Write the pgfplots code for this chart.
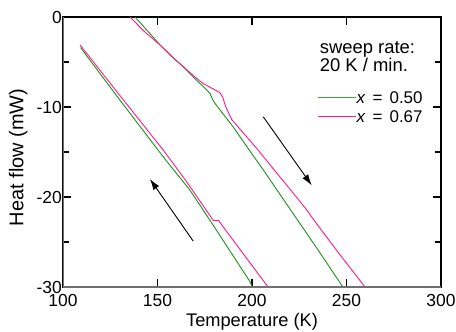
\documentclass[border=0pt]{standalone}
\usepackage{fontspec}
\setmainfont{Liberation Sans}
\usepackage{pgfplots}
\pgfplotsset{compat=1.18}
\usetikzlibrary{arrows.meta}
\definecolor{cgreen}{RGB}{30,145,30}
\definecolor{lgreen}{RGB}{60,165,60}
\definecolor{cpink}{RGB}{255,25,140}
\definecolor{framegray}{RGB}{112,112,112}
\begin{document}
\begin{tikzpicture}
\useasboundingbox (-63bp,-45bp) rectangle (393bp,287bp);
\begin{axis}[
  at={(0,0)}, anchor=south west,
  scale only axis, width=378bp, height=270bp,
  xmin=100, xmax=300, ymin=-30, ymax=0,
  xtick={100,150,200,250,300},
  ytick={-30,-20,-10,0},
  minor ytick={-25,-15,-5},
  tick align=inside,
  major tick length=8bp, minor tick length=6bp,
  every tick/.style={black, line width=1.1bp},
  axis line style={black, line width=2.5bp},
  /pgf/number format/assume math mode=true,
  ticklabel style={font=\fontsize{17.5}{20}\selectfont, text=black},
  xticklabel style={inner sep=0pt, anchor=north, yshift=-7bp},
  yticklabel style={inner sep=0pt, anchor=east, xshift=-1bp},
  xlabel={Temperature (K)},
  ylabel={Heat flow (mW)},
  xlabel style={font=\fontsize{18.3}{22}\selectfont, at={(axis description cs:0.5,0)}, anchor=base, yshift=-39bp, inner sep=0pt},
  ylabel style={font=\fontsize{20}{24}\selectfont, at={(axis description cs:-0.105,0.48)}, anchor=base, rotate=0, inner sep=0pt},
  clip=true,
]
% heating, x = 0.50
\addplot[cgreen, line width=0.9bp] coordinates {
 (138.1,0) (145,-1.6) (151.3,-3.1) (157,-4.3) (163.5,-5.5) (170,-6.9) (175.1,-7.9)
 (177.8,-8.5) (179,-9.1) (180.4,-9.6) (190,-12.2) (198.6,-14.8) (206,-17.0)
 (220,-21.3) (235,-25.9) (248.1,-30)
};
% heating, x = 0.67
\addplot[cpink, line width=0.9bp] coordinates {
 (135.4,0) (143,-1.6) (151.3,-3.1) (159.8,-4.8) (164.6,-5.7) (170,-6.7) (174.2,-7.4)
 (180.4,-8.1) (183,-8.4) (184.5,-8.9) (186,-9.9) (187.5,-10.6) (189.3,-11.4)
 (200,-14.0) (203.3,-14.8) (210.2,-16.6) (220,-19.1) (229.6,-21.6) (231.3,-22.15)
 (245,-26.0) (259.8,-30)
};
% cooling, x = 0.50
\addplot[cgreen, line width=0.9bp] coordinates {
 (109.3,-3.4) (130,-9.2) (154,-15.8) (166.3,-19.0) (168,-19.5) (180,-23.3)
 (198.9,-29.4) (200.2,-30)
};
% cooling, x = 0.67
\addplot[cpink, line width=0.9bp] coordinates {
 (109,-3.1) (130,-8.7) (153.1,-14.8) (165.4,-18.3) (179.5,-22.6) (182.2,-22.6)
 (184,-23.1) (198.9,-27.3) (208.5,-30)
};
% arrows
\draw[black, line width=0.9bp, -{Latex[length=11bp,width=7bp]}] (axis cs:206,-11.1) -- (axis cs:231.6,-18.7);
\draw[black, line width=0.9bp, -{Latex[length=11bp,width=7bp]}] (axis cs:168.9,-24.9) -- (axis cs:146,-18.0);
% annotation
\node[anchor=base west, inner sep=0pt, font=\fontsize{18.5}{22}\selectfont] at (axis cs:235.8,-4.03) {sweep rate:};
\node[anchor=base west, inner sep=0pt, font=\fontsize{18.5}{22}\selectfont] at (axis cs:235.8,-6.08) {20 K / min.};
% legend
\draw[lgreen, line width=1.4bp] (axis cs:235.06,-8.92) -- (axis cs:255.2,-8.92);
\draw[cpink, line width=1.2bp] (axis cs:235.06,-11.08) -- (axis cs:255.2,-11.08);
\node[anchor=base west, inner sep=0pt, font=\fontsize{17}{19}\selectfont] at (axis cs:255.2,-9.59)
  {\textit{x}\hspace{0.42em}=\hspace{0.42em}0.50};
\node[anchor=base west, inner sep=0pt, font=\fontsize{17}{19}\selectfont] at (axis cs:255.2,-11.67)
  {\textit{x}\hspace{0.42em}=\hspace{0.42em}0.67};
% gray left and bottom frame lines
\draw[framegray, line width=2.7bp] (rel axis cs:0,1) -- (rel axis cs:0,0) -- (rel axis cs:1,0);
\end{axis}
\end{tikzpicture}
\end{document}
